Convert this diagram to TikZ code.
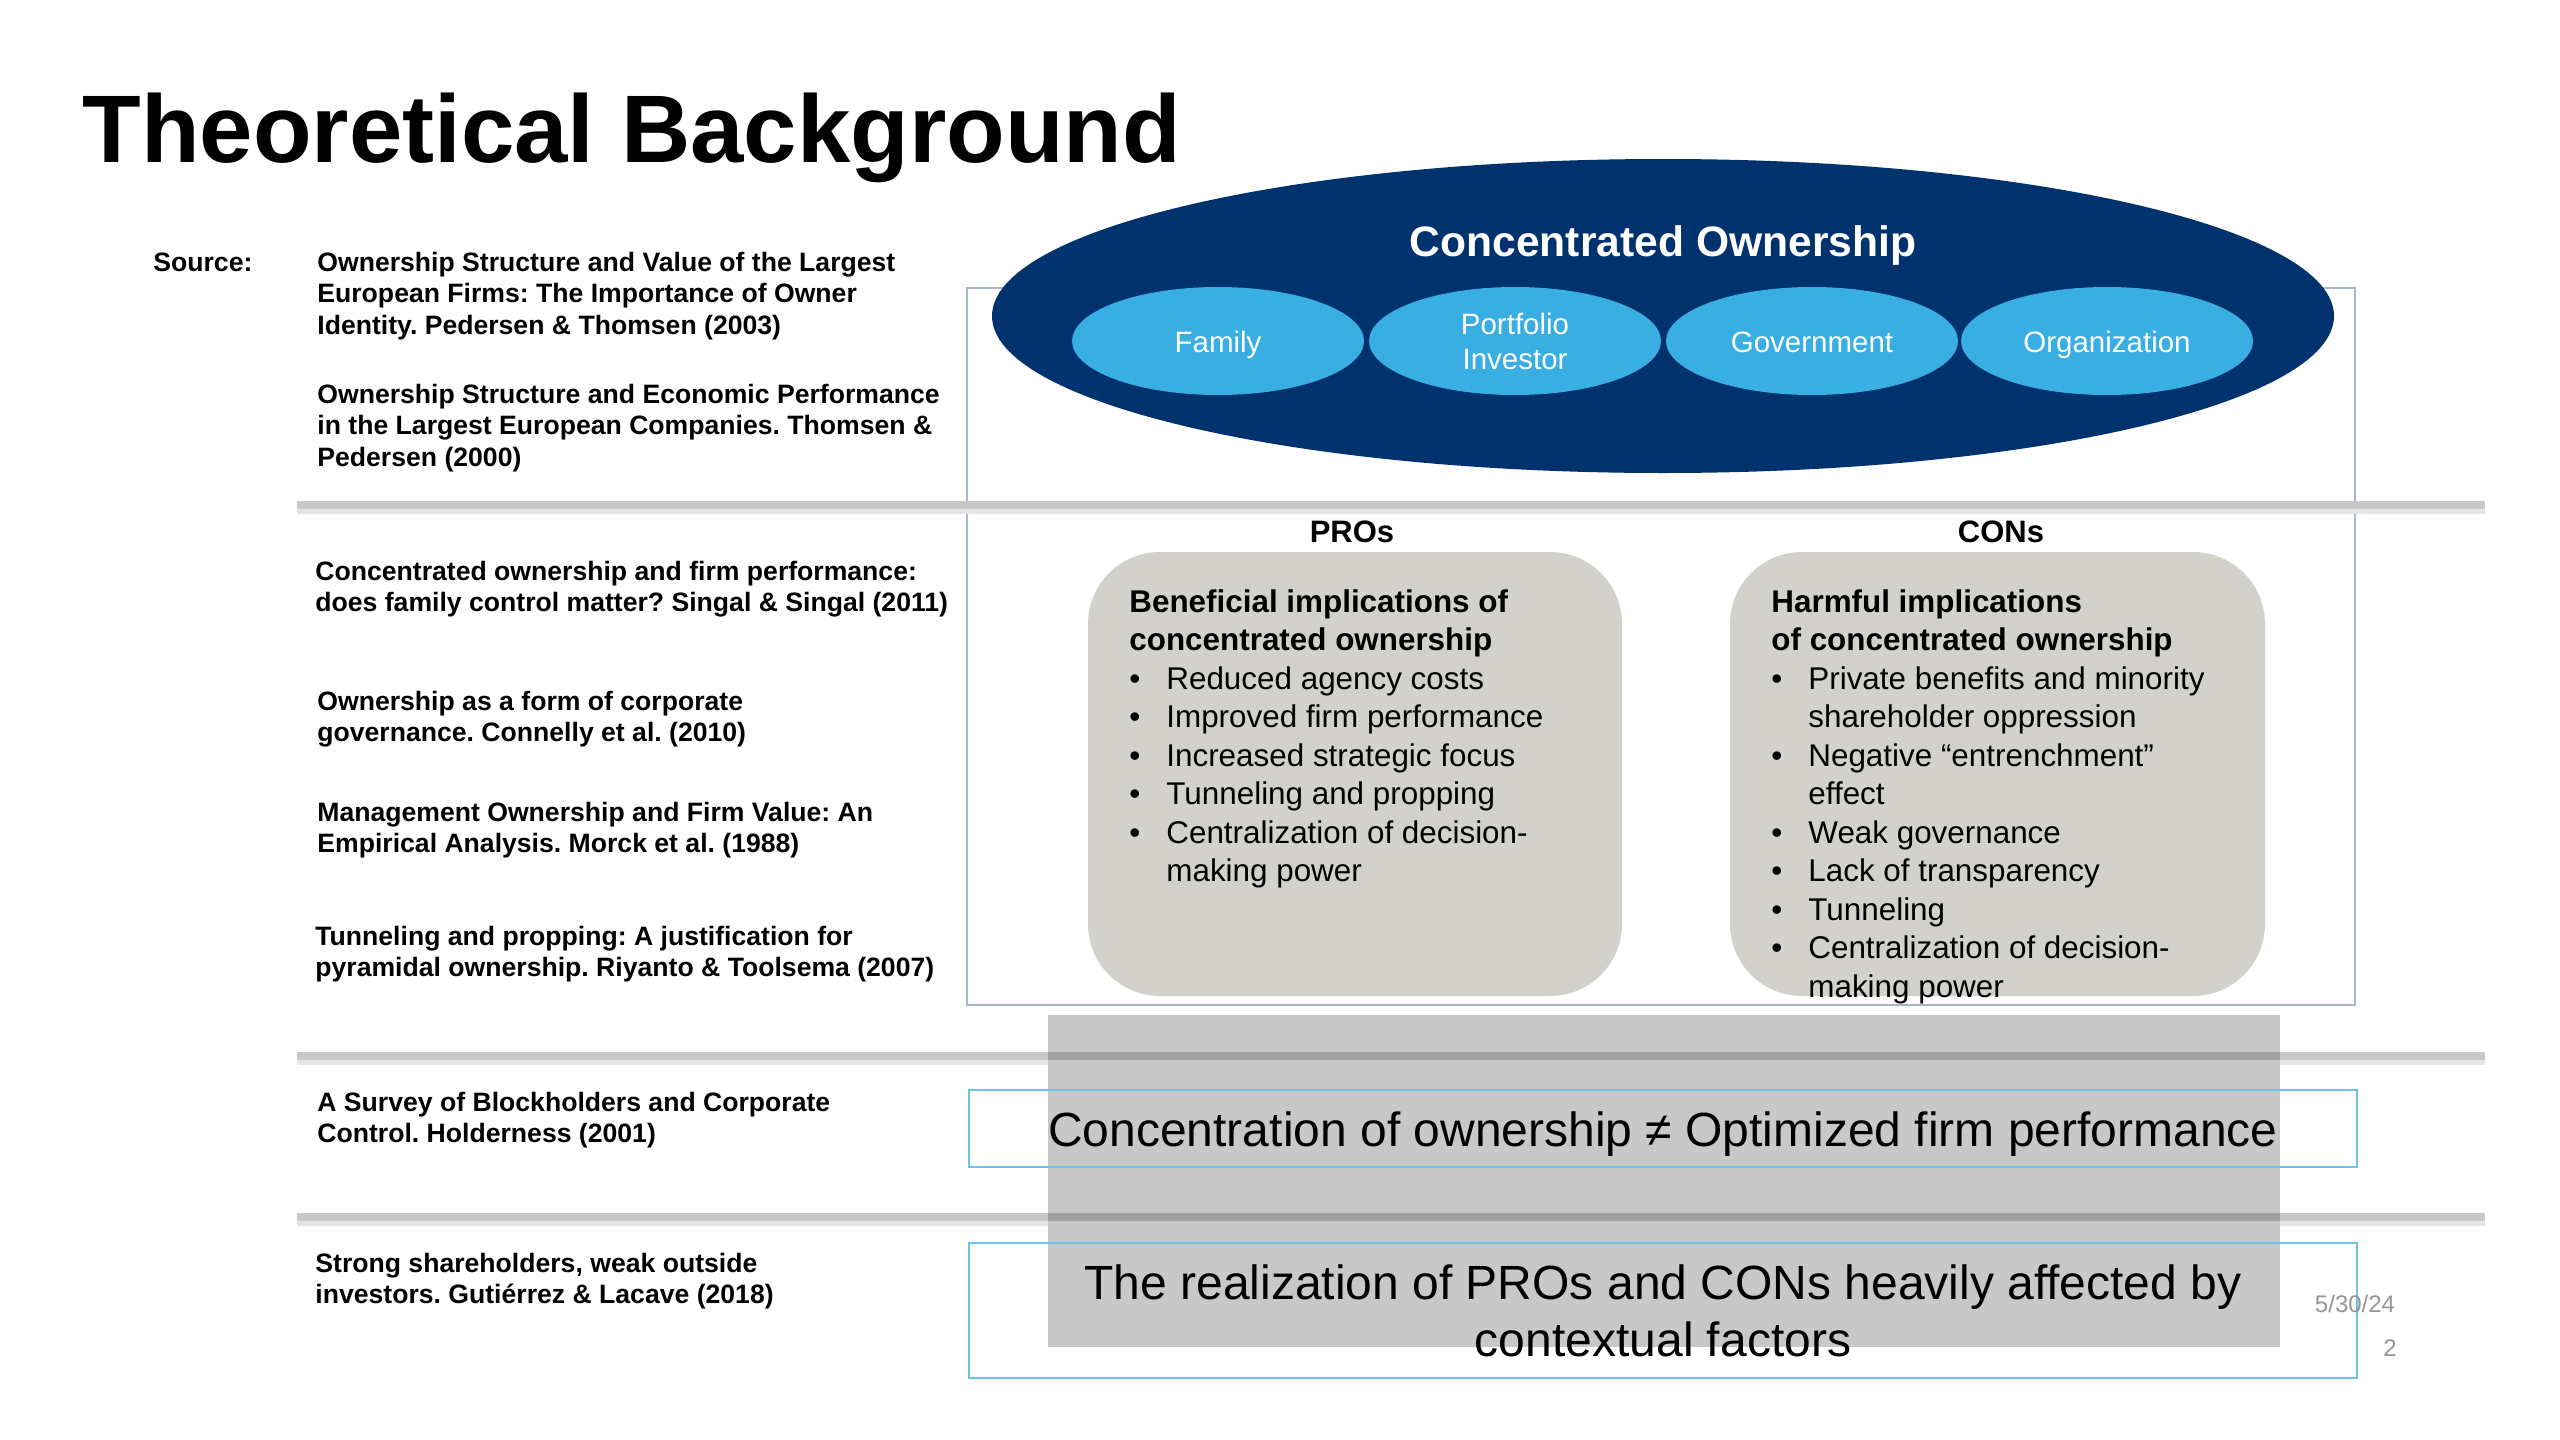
\documentclass[tikz,border=0pt]{standalone}
\usepackage{fontspec}
\setmainfont{Liberation Sans}
\usetikzlibrary{shapes.geometric}
\definecolor{navy}{RGB}{0,50,110}
\definecolor{ownblue}{RGB}{56,174,226}
\definecolor{outlineblue}{RGB}{165,182,206}
\definecolor{cyanline}{RGB}{110,195,232}
\definecolor{boxgray}{RGB}{211,209,203}
\definecolor{rectgray}{RGB}{200,200,200}
\definecolor{barcol}{RGB}{200,200,200}
\definecolor{barshade}{RGB}{228,228,228}
\definecolor{bardark}{RGB}{160,160,160}
\definecolor{dategray}{RGB}{150,150,150}
\newcommand{\bul}{\makebox[18.5pt][l]{\textbullet}}
\newcommand{\ind}{\hspace*{18.5pt}}
\frenchspacing
\begin{document}
\frenchspacing
\begin{tikzpicture}[x=0.5pt,y=-0.5pt,
  reftext/.style={anchor=north west, inner sep=0pt, align=left, font=\bfseries\fontsize{13.3}{15.75}\selectfont},
  boxtext/.style={anchor=north west, inner sep=0pt, align=left, font=\fontsize{15.7}{19.25}\selectfont},
  owner/.style={ellipse, fill=ownblue, minimum width=146pt, minimum height=54pt, inner sep=0pt, text=white, align=center, font=\fontsize{14.75}{17.5}\selectfont},
  ownerlbl/.style={anchor=base, inner sep=0pt, text=white, font=\fontsize{14.75}{17.5}\selectfont},
  probox/.style={fill=boxgray, rounded corners=36pt},
  msgbox/.style={draw=cyanline, line width=1.4pt, inner sep=0pt, minimum width=694pt, align=center, font=\fontsize{24}{28.5}\selectfont}
]
\useasboundingbox (0,0) rectangle (2560,1440);
\fill[white] (0,0) rectangle (2560,1440);

% frame around the upper part
\draw[outlineblue, line width=1.2pt] (967,288) rectangle (2355,1005);

% separator bars
\foreach \y in {505,1056,1217} {
  \draw[barshade, line width=6pt] (297,{\y+3}) -- (2485,{\y+3});
  \draw[barcol, line width=4.2pt] (297,\y) -- (2485,\y);
}

% gray panel
\fill[rectgray] (1048,1015) rectangle (2280,1347);
\foreach \y in {1056,1217} {
  \draw[bardark, line width=4.2pt] (1048,\y) -- (2280,\y);
}

% Concentrated ownership ellipse
\node[ellipse, fill=navy, minimum width=671pt, minimum height=157pt, inner sep=0pt] (big) at (1663,316) {};
\node[anchor=base, text=white, font=\bfseries\fontsize{21.3}{25}\selectfont, inner sep=0pt] (bigt) at (1663,256) {Concentrated Ownership};
\node[owner] (fam) at (1218,341) {};
\node[owner] (port) at (1515,341) {Portfolio\\Investor};
\node[owner] (gov) at (1812,341) {};
\node[owner] (org) at (2107,341) {};
\node[ownerlbl] (famt) at (1218,352) {Family};
\node[ownerlbl] (govt) at (1812,352) {Government};
\node[ownerlbl] (orgt) at (2107,352) {Organization};

% PROs / CONs
\node[anchor=base, inner sep=0pt, font=\bfseries\fontsize{15.5}{19}\selectfont] (prol) at (1352,542) {PROs};
\node[anchor=base, inner sep=0pt, font=\bfseries\fontsize{15.5}{19}\selectfont] (conl) at (2001,542) {CONs};
\fill[probox] (1088,552) rectangle (1622,996);
\fill[probox] (1730,552) rectangle (2265,996);
\node[boxtext] (prot) at (1129,585) {\strut\textbf{Beneficial implications of}\\
\textbf{concentrated ownership}\\
\bul Reduced agency costs\\
\bul Improved firm performance\\
\bul Increased strategic focus\\
\bul Tunneling and propping\\
\bul Centralization of decision-\\
\ind making power};
\node[boxtext] (cont) at (1771,585) {\strut\textbf{Harmful implications}\\
\textbf{of concentrated ownership}\\
\bul Private benefits and minority\\
\ind shareholder oppression\\
\bul Negative “entrenchment”\\
\ind effect\\
\bul Weak governance\\
\bul Lack of transparency\\
\bul Tunneling\\
\bul Centralization of decision-\\
\ind making power};

% message boxes
\node[msgbox, minimum height=38.5pt] (msg1) at (1663,1128.5) {};
\node[anchor=base, inner sep=0pt, font=\fontsize{24}{28.5}\selectfont] (msg1t) at (1663,1146) {Concentration of ownership ≠ Optimized firm performance};
\node[msgbox, minimum height=67.5pt] (msg2) at (1663,1310.5) {The realization of PROs and CONs heavily affected by\\contextual factors};

% title
\node[anchor=base west, inner sep=0pt, font=\bfseries\fontsize{48}{56}\selectfont] (title) at (82,162) {Theoretical Background};

% sources
\node[reftext] (src) at (153,249) {\strut Source:};
\node[reftext] (r1) at (317,249) {\strut Ownership Structure and Value of the Largest\\European Firms: The Importance of Owner\\Identity. Pedersen \& Thomsen (2003)};
\node[reftext] (r2) at (317,381) {\strut Ownership Structure and Economic Performance\\in the Largest European Companies. Thomsen \&\\Pedersen (2000)};
\node[reftext] (r3) at (315,558) {\strut Concentrated ownership and firm performance:\\does family control matter? Singal \& Singal (2011)};
\node[reftext] (r4) at (317,688) {\strut Ownership as a form of corporate\\governance. Connelly et al. (2010)};
\node[reftext] (r5) at (317,799) {\strut Management Ownership and Firm Value: An\\Empirical Analysis. Morck et al. (1988)};
\node[reftext] (r6) at (315,923) {\strut Tunneling and propping: A justification for\\pyramidal ownership. Riyanto \& Toolsema (2007)};
\node[reftext] (r7) at (317,1089) {\strut A Survey of Blockholders and Corporate\\Control. Holderness (2001)};
\node[reftext] (r8) at (315,1250) {\strut Strong shareholders, weak outside\\investors. Gutiérrez \& Lacave (2018)};

% footer
\node[text=dategray, font=\fontsize{12}{14}\selectfont, inner sep=0pt] (date) at (2355,1304) {5/30/24};
\node[text=dategray, font=\fontsize{12}{14}\selectfont, inner sep=0pt] (page) at (2390,1348) {2};
\end{tikzpicture}
\end{document}
